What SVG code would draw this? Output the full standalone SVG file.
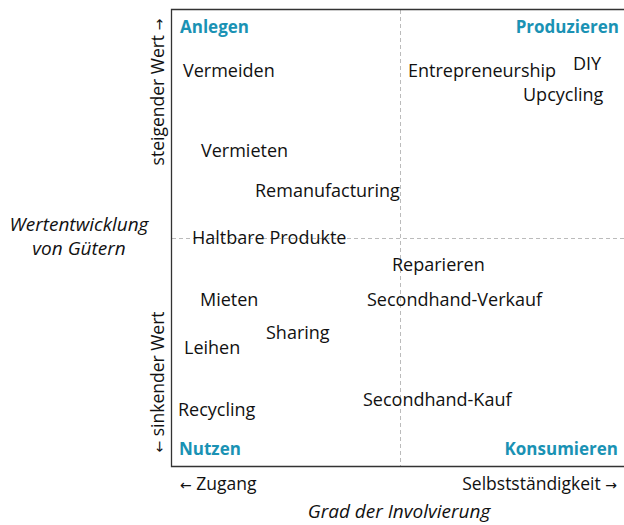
<svg xmlns="http://www.w3.org/2000/svg" width="624" height="525" viewBox="0 0 624 525">
<style>
text{font-family:"Open Sans","Noto Sans",sans-serif;font-size:18px;fill:#111}
.q{font-weight:bold;fill:#1a92b4;font-size:17px}
.i{font-style:italic;font-size:19px}
.a{font-size:17.5px}
.ar{font-family:"DejaVu Sans",sans-serif;font-size:14px}
.ax{stroke:#333;stroke-width:1.3;fill:none}
.d{stroke:#bbb;stroke-width:1;stroke-dasharray:4 3;fill:none}
</style>
<rect width="624" height="525" fill="#fff"/>
<g id="grid">
<line class="d" x1="400.5" y1="10" x2="400.5" y2="466"/>
<line class="d" x1="172" y1="238.5" x2="624" y2="238.5"/>
<path class="ax" d="M624 9.5H171.5V466.5H624"/>
</g>
<g id="quadrants">
<text class="q" x="180" y="33">Anlegen</text>
<text class="q" x="619" y="33" text-anchor="end">Produzieren</text>
<text class="q" x="179" y="455">Nutzen</text>
<text class="q" x="618" y="455" text-anchor="end">Konsumieren</text>
</g>
<g id="items">
<text x="183" y="77">Vermeiden</text>
<text x="408" y="77">Entrepreneurship</text>
<text x="573" y="70">DIY</text>
<text x="523" y="101">Upcycling</text>
<text x="201" y="157">Vermieten</text>
<text x="255" y="197">Remanufacturing</text>
<text x="192" y="244">Haltbare Produkte</text>
<text x="392" y="271">Reparieren</text>
<text x="200" y="306">Mieten</text>
<text x="367" y="306">Secondhand-Verkauf</text>
<text x="266" y="339">Sharing</text>
<text x="184" y="354">Leihen</text>
<text x="178" y="416">Recycling</text>
<text x="363" y="406">Secondhand-Kauf</text>
</g>
<g id="axes-labels">
<text class="a" x="180" y="490"><tspan class="ar">←</tspan> Zugang</text>
<text class="a" x="617" y="490" text-anchor="end">Selbstständigkeit <tspan class="ar">→</tspan></text>
<text class="i" x="399" y="518" text-anchor="middle">Grad der Involvierung</text>
<text class="i" x="79" y="231" text-anchor="middle">Wertentwicklung</text>
<text class="i" x="79" y="255" text-anchor="middle">von Gütern</text>
<text class="a" transform="translate(164 92) rotate(-90)" text-anchor="middle">steigender Wert <tspan class="ar">→</tspan></text>
<text class="a" transform="translate(164 382) rotate(-90)" text-anchor="middle"><tspan class="ar">←</tspan> sinkender Wert</text>
</g>
</svg>
